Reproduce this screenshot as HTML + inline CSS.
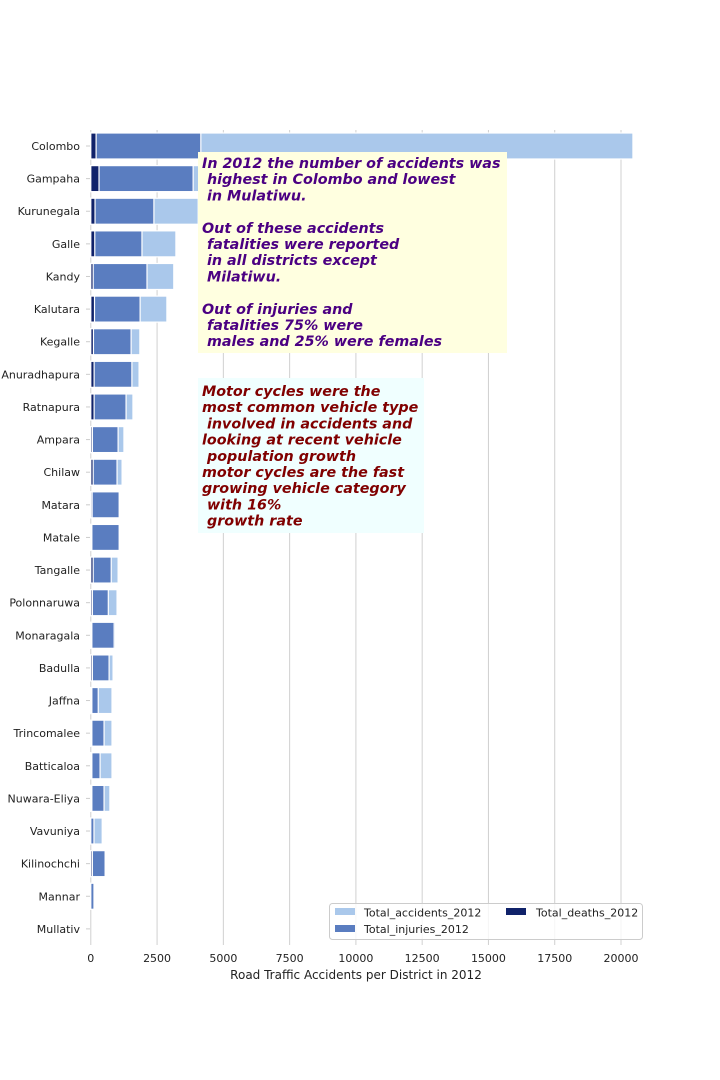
<!DOCTYPE html>
<html><head><meta charset="utf-8"><style>
body{margin:0;background:#fff;}
svg{display:block;font-family:"DejaVu Sans","Liberation Sans",sans-serif;}
</style></head><body>
<svg id="chart" width="720" height="1080" viewBox="0 0 720 1080" xmlns="http://www.w3.org/2000/svg">
<g id="grid"></g><g id="bars"></g><g id="yaxis"></g><g id="xaxis"></g>
<g>
<rect x="198" y="152" width="309" height="201" fill="#ffffe0"/>
<text fill="#4b0082" font-size="14.3" font-weight="bold" font-style="italic" xml:space="preserve">
<tspan x="202" y="168">In 2012 the number of accidents was</tspan>
<tspan x="202" y="184.2"> highest in Colombo and lowest</tspan>
<tspan x="202" y="200.4"> in Mulatiwu.</tspan>
<tspan x="202" y="232.8">Out of these accidents</tspan>
<tspan x="202" y="249"> fatalities were reported</tspan>
<tspan x="202" y="265.2"> in all districts except</tspan>
<tspan x="202" y="281.4"> Milatiwu.</tspan>
<tspan x="202" y="313.8">Out of injuries and</tspan>
<tspan x="202" y="330"> fatalities 75% were</tspan>
<tspan x="202" y="346.2"> males and 25% were females</tspan>
</text></g>
<g>
<rect x="198" y="378" width="226" height="155" fill="#f0ffff"/>
<text fill="#800000" font-size="14.3" font-weight="bold" font-style="italic" xml:space="preserve">
<tspan x="202" y="396">Motor cycles were the</tspan>
<tspan x="202" y="412.2">most common vehicle type</tspan>
<tspan x="202" y="428.4"> involved in accidents and</tspan>
<tspan x="202" y="444.6">looking at recent vehicle</tspan>
<tspan x="202" y="460.8"> population growth</tspan>
<tspan x="202" y="477">motor cycles are the fast</tspan>
<tspan x="202" y="493.2">growing vehicle category</tspan>
<tspan x="202" y="509.4"> with 16%</tspan>
<tspan x="202" y="525.6"> growth rate</tspan>
</text></g>
<g>
<rect x="329.5" y="903.5" width="313" height="36" rx="3" fill="#fff" fill-opacity="0.8" stroke="#ccc"/>
<rect x="335" y="908" width="20" height="7" fill="#aac8eb"/>
<text x="364" y="916.5" font-size="11" fill="#222">Total_accidents_2012</text>
<rect x="335" y="925" width="20" height="7" fill="#5a7dc0"/>
<text x="364" y="933" font-size="11" fill="#222">Total_injuries_2012</text>
<rect x="506" y="908" width="20" height="7" fill="#10226a"/>
<text x="536" y="916.5" font-size="11" fill="#222">Total_deaths_2012</text>
</g>
<text x="356" y="979" font-size="12" fill="#222" text-anchor="middle">Road Traffic Accidents per District in 2012</text>
</svg>
<script>
const districts=["Colombo","Gampaha","Kurunegala","Galle","Kandy","Kalutara","Kegalle","Anuradhapura","Ratnapura","Ampara","Chilaw","Matara","Matale","Tangalle","Polonnaruwa","Monaragala","Badulla","Jaffna","Trincomalee","Batticaloa","Nuwara-Eliya","Vavuniya","Kilinochchi","Mannar","Mullativ"];
const accidents=[20450,4100,4050,3210,3130,2870,1850,1820,1590,1250,1180,1070,1070,1030,990,930,840,800,800,800,720,430,540,120,0];
const injuries=[4150,3860,2380,1930,2120,1860,1520,1550,1330,1030,990,1070,1070,770,660,880,690,280,500,350,500,120,540,120,0];
const deaths=[200,310,160,150,90,140,100,125,125,60,90,50,40,90,60,40,60,40,40,40,40,0,60,0,0];
const xTicks=[0,2500,5000,7500,10000,12500,15000,17500,20000];
const NS="http://www.w3.org/2000/svg";
const X0=90.8,SC=0.02651,Y0=146,STEP=32.62,BH=26;
const xs=v=>X0+v*SC, ys=i=>Y0+i*STEP;
function mk(p,t,a){const e=document.createElementNS(NS,t);for(const k in a)e.setAttribute(k,a[k]);p.appendChild(e);return e;}
const grid=document.getElementById('grid'),bars=document.getElementById('bars'),ya=document.getElementById('yaxis'),xa=document.getElementById('xaxis');
xTicks.forEach(t=>{
 const l=mk(grid,'line',{x1:xs(t),x2:xs(t),y1:130,y2:945,stroke:'#d0d0d0','stroke-width':1});
 
 
 const tx=mk(xa,'text',{x:xs(t),y:962,'font-size':11,fill:'#222','text-anchor':'middle'});
 tx.textContent=t;
 
 
});
const series=[[accidents,'#aac8eb','bar-accidents'],[injuries,'#5a7dc0','bar-injuries'],[deaths,'#10226a','bar-deaths']];
districts.forEach((d,i)=>{
 series.forEach(([arr,c,n])=>{
  if(arr[i]<=0)return;
  const r=mk(bars,'rect',{x:xs(0),y:ys(i)-BH/2,width:Math.max(arr[i]*SC,0.5),height:BH,fill:c,stroke:'#fff','stroke-width':1.2});
  
  
 });
 mk(ya,'line',{x1:86,x2:90,y1:ys(i),y2:ys(i),stroke:'#ccc'});
 const tx=mk(ya,'text',{x:80,y:ys(i)+4,'font-size':11,fill:'#222','text-anchor':'end'});
 tx.textContent=d;
 
 
});
</script>
</body></html>
